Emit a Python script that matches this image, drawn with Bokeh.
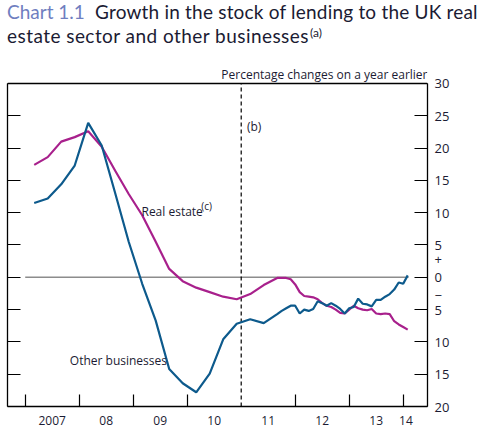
from bokeh.plotting import figure
from bokeh.models import Range1d, LinearAxis, FixedTicker, Span, Label, Div
from bokeh.layouts import column
from bokeh.embed import file_html
from bokeh.resources import INLINE

# ---------------- data ----------------
dates = [
    "2007-03", "2007-06", "2007-09", "2007-12",
    "2008-03", "2008-06", "2008-09", "2008-12",
    "2009-03", "2009-06", "2009-09", "2009-12",
    "2010-03", "2010-06", "2010-09", "2010-12",
    "2011-03", "2011-06", "2011-09",
    "2011-10", "2011-11", "2011-12",
    "2012-01", "2012-02", "2012-03", "2012-04", "2012-05", "2012-06",
    "2012-07", "2012-08", "2012-09", "2012-10", "2012-11", "2012-12",
    "2013-01", "2013-02", "2013-03", "2013-04", "2013-05", "2013-06",
    "2013-07", "2013-08", "2013-09", "2013-10", "2013-11", "2013-12",
    "2014-01", "2014-02",
]

other_businesses = [
    11.5, 12.2, 14.4, 17.3,
    23.9, 20.4, 13.0, 5.5,
    -1.0, -6.7, -14.2, -16.4,
    -17.8, -14.9, -9.6, -7.2,
    -6.5, -7.1, -5.7,
    -5.2, -4.8, -4.4,
    -4.4, -5.6, -5.0, -5.2, -4.9, -3.7,
    -4.0, -4.4, -4.0, -4.4, -4.9, -5.6,
    -4.8, -4.6, -3.3, -4.1, -4.2, -4.5,
    -3.5, -3.5, -3.0, -2.6, -1.9, -0.8,
    -1.0, 0.3,
]

real_estate = [
    17.4, 18.6, 21.0, 21.7,
    22.6, 20.2, 16.5, 12.9,
    9.6, 5.5, 1.3, -0.6,
    -1.6, -2.3, -3.0, -3.4,
    -2.6, -1.2, -0.1,
    -0.1, -0.1, -0.3,
    -1.1, -2.3, -2.9, -3.0, -3.1, -3.4,
    -4.0, -4.4, -4.6, -5.0, -5.5, -5.6,
    -5.0, -4.4, -4.8, -5.0, -5.1, -4.9,
    -5.6, -5.7, -5.6, -5.7, -6.8, -7.3,
    -7.7, -8.1,
]

year_bounds = [2007, 2008, 2009, 2010, 2012, 2013, 2014]
year_label_pos = [2007.5, 2008.5, 2009.5, 2010.5, 2011.5, 2012.5, 2013.5, 2014.05]
year_labels = ["2007", "08", "09", "10", "11", "12", "13", "14"]

y_ticks = [-20, -15, -10, -5, 0, 5, 10, 15, 20, 25, 30]
y_tick_labels = ["20", "15", "10", "5", "+\n0\n\u2212", "5", "10", "15", "20", "25", "30"]
y_min, y_max = -20, 30

break_date = 2011.0
zero_line_x = [2007.0, 2014.1]

# ---------------- styling ----------------
FONT = "Open Sans"
TITLE_FONT = "Lato"
TXT = "#1b1b33"
TITLE_BLUE = "#6f7ec0"
BLUE = "#0d5a8c"
MAGENTA = "#a8208c"


def to_year(s):
    y, m = s.split("-")
    return int(y) + (int(m) - 1) / 12.0


t = [to_year(d) for d in dates]

title_html = (
    f'<div style="font-family:{TITLE_FONT};font-size:19px;color:{TXT};'
    f'white-space:nowrap;padding-left:7px;">'
    f'<div style="line-height:23px;letter-spacing:0.2px;">'
    f'<span style="color:{TITLE_BLUE};display:inline-block;width:88px;letter-spacing:0;">Chart 1.1</span>'
    'Growth in the stock of lending to the UK real</div>'
    '<div style="line-height:26px;">'
    '<span style="letter-spacing:0.45px;">estate sector and other businesses</span>'
    '<span style="font-size:12px;position:relative;top:-6px;margin-left:1px;">(a)</span>'
    '</div></div>'
)
title = Div(text=title_html, width=492, height=55, margin=0)

# frame also covers the strip just above the chart box
p = figure(
    frame_width=420, frame_height=351,
    x_range=Range1d(2006.672, 2014.45), y_range=Range1d(y_min, 34.334),
    output_backend="svg", toolbar_location=None,
    y_axis_location="right",
    min_border_left=7, min_border_right=65,
    min_border_top=0, min_border_bottom=27,
    margin=0,
)
p.grid.visible = False
p.background_fill_color = "white"
p.border_fill_color = "white"
p.outline_line_color = None

# x axis
xa = p.xaxis[0]
xa.ticker = FixedTicker(ticks=year_label_pos, minor_ticks=year_bounds)
xa.major_label_overrides = {v: s for v, s in zip(year_label_pos, year_labels)}
xa.major_tick_in = 0
xa.major_tick_out = 0
xa.minor_tick_in = 12
xa.minor_tick_out = 0
xa.minor_tick_line_color = "black"
xa.minor_tick_line_width = 1.2
xa.axis_line_color = "black"
xa.axis_line_width = 1.3
xa.major_label_text_font = FONT
xa.major_label_text_font_size = "12px"
xa.major_label_text_color = TXT
xa.major_label_standoff = 9

# right y axis (labelled)
ya = p.yaxis[0]
ya.bounds = (y_min, y_max)
ya.ticker = FixedTicker(ticks=y_ticks)
ya.major_label_overrides = {v: s for v, s in zip(y_ticks, y_tick_labels)}
ya.major_tick_in = 13
ya.major_tick_out = 0
ya.minor_tick_line_color = None
ya.axis_line_color = "black"
ya.axis_line_width = 1.3
ya.major_tick_line_width = 1.2
ya.major_label_text_font = FONT
ya.major_label_text_font_size = "13px"
ya.major_label_text_color = TXT
ya.major_label_text_line_height = 1.0
ya.major_label_standoff = 7

# left y axis (ticks only)
la = LinearAxis(
    bounds=(y_min, y_max),
    ticker=FixedTicker(ticks=y_ticks),
    major_label_overrides={v: "" for v in y_ticks},
    major_tick_in=13, major_tick_out=0, major_label_standoff=0,
    minor_tick_line_color=None,
    axis_line_color="black", axis_line_width=1.3, major_tick_line_width=1.2,
    major_label_text_font_size="0px",
)
p.add_layout(la, "left")

# top border of the chart box
p.add_layout(Span(location=y_max, dimension="width", line_color="black", line_width=1.3))

# reference lines
p.line(zero_line_x, [0, 0], line_color="#8c8c8c", line_width=1.6)
p.segment(x0=[break_date], y0=[y_min], x1=[break_date], y1=[y_max],
          line_color="black", line_width=1.2, line_dash="4 3")

# series
p.line(t, real_estate, line_color=MAGENTA, line_width=2.2)
p.line(t, other_businesses, line_color=BLUE, line_width=2.2)


def lab(x, y, text, size, color=TXT, align="left", baseline="alphabetic"):
    p.add_layout(Label(x=x, y=y, text=text, text_font=FONT, text_font_size=size,
                       text_color=color, text_align=align, text_baseline=baseline))


lab(2014.45, 31.32, "Percentage changes on a year earlier", "12px", align="right")
lab(2011.107, 23.35, "(b)", "12px")
lab(2009.153, 10.11, "Real estate", "12px")
lab(2010.259, 10.96, "(c)", "10px")
lab(2007.826, -12.88, "Other businesses", "12px")

layout = column(title, p, spacing=0, margin=0)
open("out.html", "w").write(file_html(layout, INLINE))
